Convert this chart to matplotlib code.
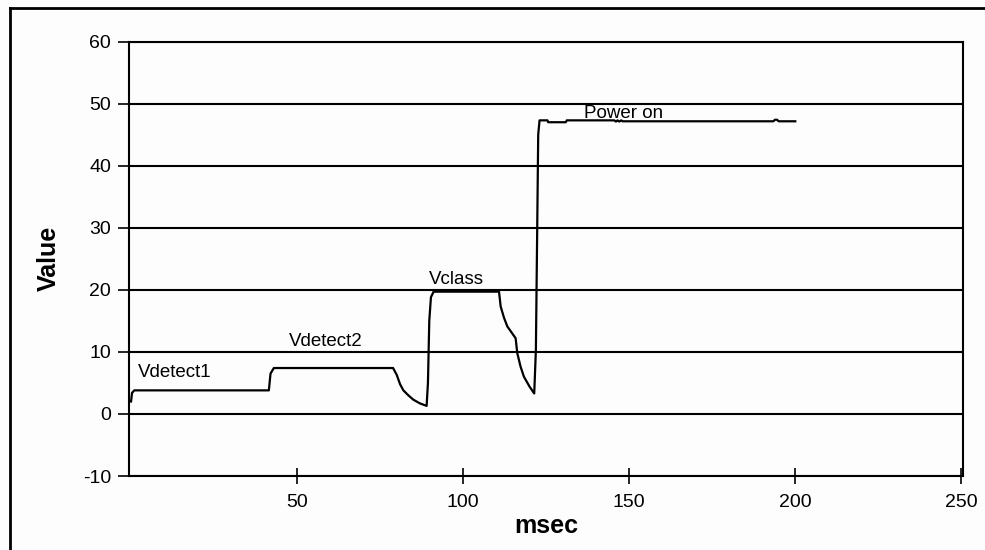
import matplotlib.pyplot as plt
from matplotlib.lines import Line2D

plt.rcParams["font.family"] = ["Liberation Sans", "DejaVu Sans"]
plt.rcParams["axes.unicode_minus"] = False

# Data
msec = [0, 0.3, 1, 41.5, 42, 43, 78.9, 80, 81, 82, 83.5, 85, 87, 89,
        89.4, 89.8, 90.3, 91.1, 110.8, 111.3, 112.3, 113.3, 115.8, 116.3, 117.3, 118.3, 120, 121.4,
        121.9, 122.3, 122.6, 123, 125.4, 125.6, 130.9, 131.2,
        145.5, 146, 146.5, 147, 147.6, 148, 193.4, 193.9, 194.5, 195, 200]
value = [2, 3.4, 3.8, 3.8, 6.5, 7.4, 7.4, 6.3, 4.8, 3.8, 3.0, 2.3, 1.7, 1.3,
         5, 15, 18.8, 19.7, 19.7, 17.3, 15.5, 14.1, 12.2, 9.8, 7.6, 6.0, 4.4, 3.3,
         10.3, 30, 45, 47.3, 47.3, 47.0, 47.0, 47.3,
         47.3, 47.1, 47.3, 47.1, 47.3, 47.15, 47.15, 47.4, 47.4, 47.15, 47.15]

phase_labels = ["Vdetect1", "Vdetect2", "Vclass", "Power on"]
phase_x = [2, 47.4, 89.6, 136.5]
phase_y = [6.0, 11.0, 21.0, 47.6]

xticks = [50, 100, 150, 200, 250]
yticks = [-10, 0, 10, 20, 30, 40, 50, 60]

fig = plt.figure(figsize=(9.85, 5.5), dpi=100)
fig.patch.set_facecolor("#fdfdfd")
ax = fig.add_axes([0.131, 0.1345, 0.847, 0.790])
ax.set_facecolor("#fdfdfd")

# gridlines
for yv in yticks:
    ax.axhline(yv, color="black", lw=1.5, zorder=1)

ax.plot(msec, value, color="black", lw=1.6, zorder=3)

for lab, xv, yv in zip(phase_labels, phase_x, phase_y):
    ax.text(xv, yv, lab, fontsize=13.5, va="baseline", ha="left")

ax.set_xlim(-0.6, 250.6)
ax.set_ylim(-10, 60)
ax.set_xticks(xticks)
ax.set_yticks(yticks)
ax.tick_params(axis="x", direction="inout", length=12, width=1.2, labelsize=14, pad=7)
ax.tick_params(axis="y", direction="out", length=8, width=1.2, labelsize=14, pad=5)

for sp in ax.spines.values():
    sp.set_color("black")
    sp.set_linewidth(1.5)

ax.set_xlabel("msec", fontsize=18, fontweight="bold", labelpad=2)
ax.set_ylabel("Value", fontsize=18, fontweight="bold", labelpad=16)

# outer frame of the chart object
fig.add_artist(Line2D([10 / 985, 10 / 985], [-0.05, 1 - 8 / 550], color="black", lw=2,
                      transform=fig.transFigure))
fig.add_artist(Line2D([10 / 985, 1.05], [1 - 8 / 550, 1 - 8 / 550], color="black", lw=2,
                      transform=fig.transFigure))

fig.savefig("out.png", dpi=100, facecolor=fig.get_facecolor())
